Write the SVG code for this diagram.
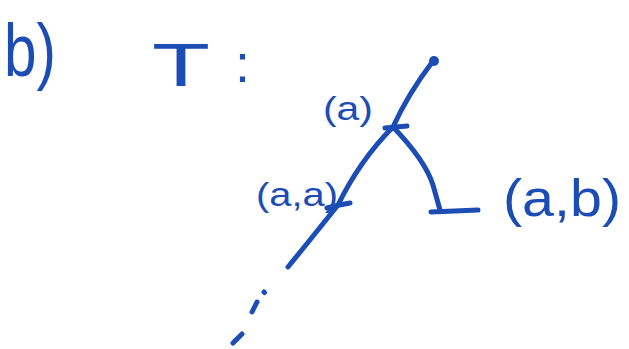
<svg xmlns="http://www.w3.org/2000/svg" width="629" height="349" viewBox="0 0 629 349">
<style>
.ink{fill:none;stroke:#1c4db5;stroke-width:5;stroke-linecap:round;stroke-linejoin:round}
.lbl{font-family:"Liberation Sans",Arial,sans-serif;fill:#1c4db5}
</style>
<rect width="629" height="349" fill="#ffffff"/>
<g id="title">
<text class="lbl" x="4" y="76" font-size="74" textLength="52" lengthAdjust="spacingAndGlyphs">b)</text>
<text class="lbl" x="152" y="86" font-size="62" textLength="58" lengthAdjust="spacingAndGlyphs">T</text>
<text class="lbl" x="235" y="82" font-size="54">:</text>
</g>
<g id="connectors">
<path class="ink" d="M433,61 Q408,94 393,127"/>
<path class="ink" d="M393,127 Q360,160 338,205 Q310,240 288,267"/>
<path class="ink" d="M393,127 Q425,160 433,185 L440,210"/>
<path class="ink" d="M264,292 L264.5,292.5 M257,302 L252,312 M242,334 L233,343" stroke-width="6"/>
</g>
<g id="node-root">
<circle cx="434" cy="61" r="5" fill="#1c4db5"/>
</g>
<g id="node-a">
<path class="ink" d="M385,128 L407,126"/>
<text class="lbl" x="323" y="120" font-size="34" textLength="50" lengthAdjust="spacingAndGlyphs">(a)</text>
</g>
<g id="node-aa">
<path class="ink" d="M327,208 Q338,205 350,203"/>
<text class="lbl" x="256" y="206" font-size="34" textLength="82" lengthAdjust="spacingAndGlyphs">(a,a)</text>
</g>
<g id="node-ab">
<path class="ink" d="M431,212 L478,210"/>
<text class="lbl" x="503" y="216" font-size="52" textLength="118" lengthAdjust="spacingAndGlyphs">(a,b)</text>
</g>
</svg>
